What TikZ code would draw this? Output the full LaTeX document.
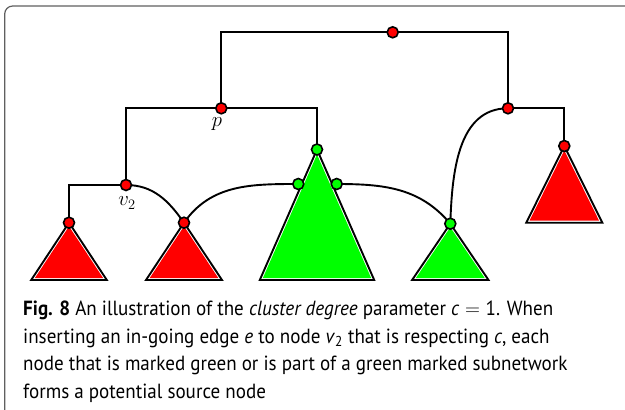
\documentclass[tikz,border=0pt]{standalone}
\usepackage{fontspec}
\setmainfont{PT Sans}[FakeStretch=0.93]
\pgfdeclarelayer{bg}
\pgfsetlayers{bg,main}
\definecolor{nred}{RGB}{255,0,0}
\definecolor{ngreen}{RGB}{0,255,0}
\definecolor{framegray}{RGB}{95,95,95}
\tikzset{
  vtx/.style={circle, draw=black, line width=1.6pt, minimum size=11pt, inner sep=0pt},
  rv/.style={vtx, fill=nred},
  gv/.style={vtx, fill=ngreen},
  edge/.style={line width=1.9pt, draw=black},
  tribord/.style={draw=black, line width=1.9pt, fill=white, line join=miter},
  lbl/.style={inner sep=0pt, font=\fontsize{21}{21}\selectfont},
  capline/.style={anchor=base west, inner sep=0pt, font=\fontsize{20.5}{24}\selectfont},
}
\newcommand\subtree[5]{%
  \pgfmathsetmacro\trr{#3*#4/(#3+veclen(#3,#4))}%
  \pgfmathsetmacro\trf{(\trr-2.0)/\trr}%
  \draw[tribord] (#1,#2) -- (#1-#3,#2+#4) -- (#1+#3,#2+#4) -- cycle;
  \fill[#5, scale around={\trf:(#1,#2+#4-\trr)}] (#1,#2) -- (#1-#3,#2+#4) -- (#1+#3,#2+#4) -- cycle;
}
\begin{document}
\begin{tikzpicture}[x=1pt,y=-1pt]
\useasboundingbox (0,0) rectangle (625,410);
% frame
\draw[framegray, line width=1.2pt, rounded corners=8pt] (4.7,410) -- (4.7,6) -- (625,6);

% nodes
\node[rv] (T) at (392.7,32.3) {};
\node[rv] (p) at (221.3,108.3) {};
\node[rv] (r) at (508,108.3) {};
\node[rv] (v2) at (126,185) {};
\node[rv] (L1) at (69,222.7) {};
\node[rv] (L2) at (184,222.7) {};
\node[gv] (G) at (317,149.5) {};
\node[gv] (G1) at (298.3,184) {};
\node[gv] (G2) at (336.7,184) {};
\node[gv] (GS) at (450.3,223.7) {};
\node[rv] (R) at (564.3,146) {};

\node[lbl] (plbl) at (217,124) {$p$};
\node[lbl] (v2lbl) at (127,203) {$v_2$};

\begin{pgfonlayer}{bg}
  \draw[edge] (p.center) |- (T.center) -| (r.center);
  \draw[edge] (v2.center) |- (p.center) -| (G.center);
  \draw[edge] (v2.center) -| (L1.center);
  \draw[edge] (r.center) -| (R.center);
  \draw[edge] (v2.center) to[out=0,in=125] (L2.center);
  \draw[edge] (L2.center) to[out=55,in=180] (G1.center);
  \draw[edge] (G2.center) to[out=0,in=130] (GS.center);
  \draw[edge] (r.center) to[out=180,in=88] (GS.center);
  \subtree{69}{222.7}{37.8}{57.3}{nred}
  \subtree{184}{222.7}{38}{57.3}{nred}
  \subtree{317}{149.5}{57.2}{130.5}{ngreen}
  \subtree{450.3}{223.7}{38.2}{56.3}{ngreen}
  \subtree{564.3}{146}{38}{76.7}{nred}
\end{pgfonlayer}

% caption
\node[capline] (c1) at (23,315.5) {\textbf{Fig. 8} An illustration of the \textit{cluster degree} parameter \textit{c}\;$=$\;1. When};
\node[capline] (c2) at (23,343.2) {inserting an in-going edge \textit{e} to node \textit{v}\textsubscript{2} that is respecting \textit{c}, each};
\node[capline] (c3) at (23,370.9) {node that is marked green or is part of a green marked subnetwork};
\node[capline] (c4) at (23,398.6) {forms a potential source node};
\end{tikzpicture}
\end{document}
